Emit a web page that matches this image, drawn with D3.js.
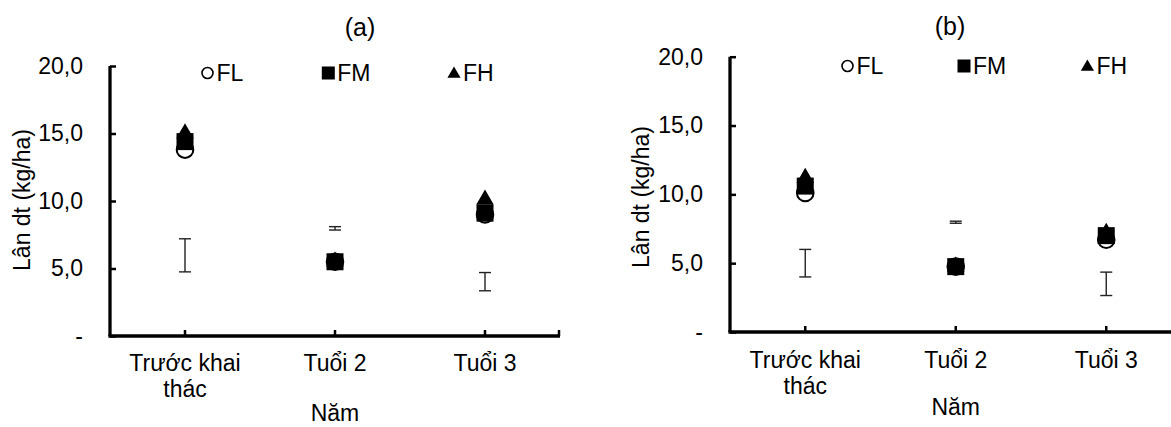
<!DOCTYPE html>
<html>
<head>
<meta charset="utf-8">
<script src="https://cdn.jsdelivr.net/npm/d3@7"></script>
<style>
  body { margin: 0; background: #fff; }
  text { font-family: "Liberation Sans", Arial, sans-serif; fill: #000; }
</style>
</head>
<body>
<div id="chart"></div>
<script>
// data
var categories = ["Trước khai thác", "Tuổi 2", "Tuổi 3"];
var seriesNames = ["FL", "FM", "FH"];

var flA = [13.8, 5.5, 9.0];
var fmA = [14.4, 5.5, 9.1];
var fhA = [15.0, 5.5, 10.1];
var errLowA = [4.75, 7.85, 3.35];
var errHighA = [7.2, 8.1, 4.7];

var flB = [10.1, 4.75, 6.7];
var fmB = [10.6, 4.75, 7.0];
var fhB = [11.2, 4.75, 7.2];
var errLowB = [4.0, 7.9, 2.65];
var errHighB = [6.0, 8.05, 4.35];

var yTicks = [0, 5, 10, 15, 20];

var width = 1171;
var height = 427;
var fontSize = 23;

var svg = d3.select('#chart')
    .append('svg')
    .attr('width', width)
    .attr('height', height);

var panels = [
  { title: "(a)", fl: flA, fm: fmA, fh: fhA, lo: errLowA, hi: errHighA,
    x0: 110, x1: 560, yTop: 66, yBot: 336, titleX: 360, titleY: 36,
    legY: 73, legX: [207.5, 328.3, 454], labY: 200, labX: 30, catY: 371, namY: 421 },
  { title: "(b)", fl: flB, fm: fmB, fh: fhB, lo: errLowB, hi: errHighB,
    x0: 730, x1: 1181.5, yTop: 56.7, yBot: 332, titleX: 950, titleY: 35,
    legY: 66, legX: [847.5, 964, 1087.4], labY: 197, labX: 649, catY: 368, namY: 415 }
];

var fmt = function(d) { return d === 0 ? "-" : d3.format(".1f")(d).replace(".", ","); };

panels.forEach(function(p) {
  var g = svg.append('g');

  var x = d3.scaleBand().domain(categories).range([p.x0, p.x1]).padding(0);
  var y = d3.scaleLinear().domain([0, 20]).range([p.yBot, p.yTop]);
  var cx = function(i) { return x(categories[i]) + x.bandwidth() / 2; };

  // y axis
  var yAxis = g.append('g')
      .attr('transform', 'translate(' + p.x0 + ',0)')
      .call(d3.axisLeft(y).tickValues(yTicks).tickSize(-6).tickPadding(27).tickFormat(fmt));
  yAxis.select('.domain').attr('stroke', '#000').attr('stroke-width', 3.3).attr('d', 'M0,' + p.yTop + 'V' + p.yBot);
  yAxis.selectAll('.tick line').attr('stroke', '#000').attr('stroke-width', 2.5).attr('x1', 0);
  yAxis.selectAll('.tick text').attr('font-size', fontSize).attr('font-family', '"Liberation Sans", Arial, sans-serif');

  // x axis
  var xAxis = g.append('g')
      .attr('transform', 'translate(0,' + p.yBot + ')')
      .call(d3.axisBottom(x).tickSize(-6).tickFormat(''));
  xAxis.select('.domain').attr('stroke', '#000').attr('stroke-width', 3.3).attr('d', 'M' + (p.x0 - 1.6) + ',0H' + p.x1);
  xAxis.selectAll('.tick line').attr('stroke', '#000').attr('stroke-width', 2.5);
  xAxis.append('line')
      .attr('x1', p.x1 - 1).attr('x2', p.x1 - 1).attr('y1', 0).attr('y2', -6)
      .attr('stroke', '#000').attr('stroke-width', 2.5);

  // category labels (wrapped like the original)
  categories.forEach(function(c, i) {
    var lines = c === "Trước khai thác" ? ["Trước khai", "thác"] : [c];
    var t = g.append('text')
        .attr('text-anchor', 'middle')
        .attr('font-size', fontSize)
        .attr('x', cx(i))
        .attr('y', p.catY);
    lines.forEach(function(l, k) {
      t.append('tspan').attr('x', cx(i)).attr('dy', k === 0 ? 0 : 26).text(l);
    });
  });

  // axis titles
  g.append('text')
      .attr('text-anchor', 'middle')
      .attr('font-size', fontSize)
      .attr('x', cx(1))
      .attr('y', p.namY)
      .text("Năm");
  g.append('text')
      .attr('text-anchor', 'middle')
      .attr('font-size', fontSize)
      .attr('transform', 'translate(' + p.labX + ',' + p.labY + ') rotate(-90)')
      .text("Lân dt (kg/ha)");
  g.append('text')
      .attr('text-anchor', 'middle')
      .attr('font-size', 25)
      .attr('x', p.titleX)
      .attr('y', p.titleY)
      .text(p.title);

  // error bars
  categories.forEach(function(c, i) {
    var eb = g.append('g').attr('stroke', '#222').attr('stroke-width', 1.4);
    eb.append('line').attr('x1', cx(i)).attr('x2', cx(i)).attr('y1', y(p.lo[i])).attr('y2', y(p.hi[i]));
    [p.lo[i], p.hi[i]].forEach(function(v) {
      eb.append('line').attr('x1', cx(i) - 6).attr('x2', cx(i) + 6).attr('y1', y(v)).attr('y2', y(v));
    });
  });

  // markers: FL circle, FH triangle, FM square
  var tri = d3.symbol().type(d3.symbolTriangle).size(135);
  g.selectAll('.fl').data(p.fl).enter().append('circle')
      .attr('cx', function(d, i) { return cx(i); })
      .attr('cy', function(d) { return y(d); })
      .attr('r', 8.3)
      .attr('fill', '#fff')
      .attr('stroke', '#000')
      .attr('stroke-width', 2);
  g.selectAll('.fh').data(p.fh).enter().append('path')
      .attr('d', tri)
      .attr('transform', function(d, i) { return 'translate(' + cx(i) + ',' + y(d) + ')'; })
      .attr('fill', '#000');
  g.selectAll('.fm').data(p.fm).enter().append('rect')
      .attr('x', function(d, i) { return cx(i) - 8.5; })
      .attr('y', function(d) { return y(d) - 8.5; })
      .attr('width', 17)
      .attr('height', 17)
      .attr('fill', '#000');

  // legend
  var legTri = d3.symbol().type(d3.symbolTriangle).size(75);
  seriesNames.forEach(function(s, i) {
    var lx = p.legX[i];
    if (s === "FL") {
      g.append('circle').attr('cx', lx).attr('cy', p.legY).attr('r', 5.5)
          .attr('fill', '#fff').attr('stroke', '#000').attr('stroke-width', 1.6);
    } else if (s === "FM") {
      g.append('rect').attr('x', lx - 6.5).attr('y', p.legY - 6.5).attr('width', 13).attr('height', 13).attr('fill', '#000');
    } else {
      g.append('path').attr('d', legTri).attr('transform', 'translate(' + lx + ',' + (p.legY + 1) + ')').attr('fill', '#000');
    }
    g.append('text')
        .attr('x', lx + 9)
        .attr('y', p.legY + 8)
        .attr('font-size', fontSize)
        .text(s);
  });
});
</script>
</body>
</html>
